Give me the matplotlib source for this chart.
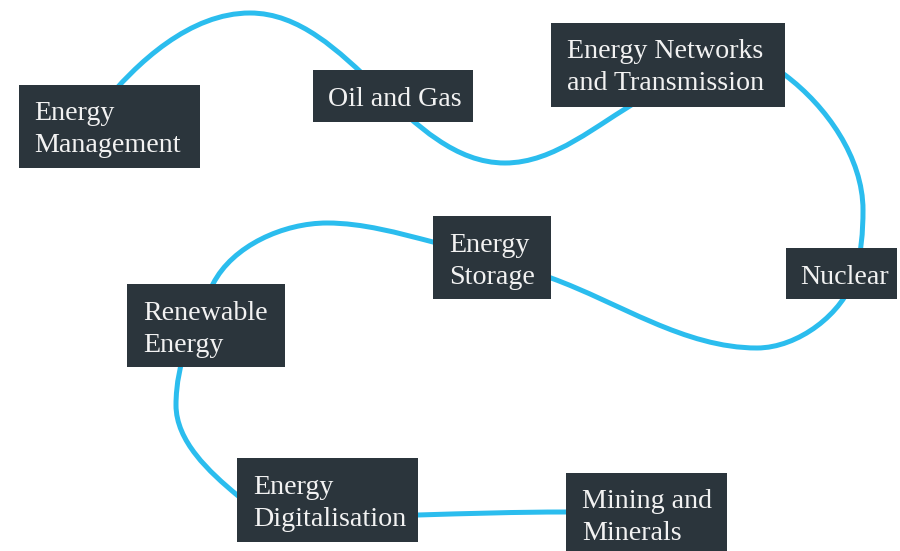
import matplotlib.pyplot as plt
from matplotlib.patches import Rectangle, PathPatch
from matplotlib.path import Path
import numpy as np

# sector boxes (pixel coords, y grows downward)
labels = [
    ["Energy", "Management"],
    ["Oil and Gas"],
    ["Energy Networks", "and Transmission"],
    ["Nuclear"],
    ["Energy", "Storage"],
    ["Renewable", "Energy"],
    ["Energy", "Digitalisation"],
    ["Mining and", "Minerals"],
]
box_left = [19, 313, 551, 786, 433, 127, 237, 566]
box_right = [200, 473, 785, 897, 551, 285, 418, 727]
box_top = [85, 70, 23, 248, 216, 284, 458, 473]
box_bottom = [168, 122, 107, 299, 299, 367, 542, 556]
text_left = [34, 328, 567, 800, 449, 143, 253, 582]

# anchors of the connecting route and the heading at each anchor
route_x = [100, 250, 505, 640, 785, 863, 855, 757, 551, 433, 327, 213, 176, 237, 418, 566, 600]
route_y = [108, 13, 163, 100, 75, 210, 275, 348, 278, 242, 223, 284, 405, 495, 515, 512, 512]
head_x = [0.62, 1, 1, 0.87, 0.8, 0, -0.3, -1, -0.94, -0.97, -1, -0.45, 0, 0.77, 1, 1, 1]
head_y = [-0.78, 0, 0, -0.49, 0.6, 1, 1, 0, -0.34, -0.25, 0, 0.89, 1, 0.64, -0.03, 0, 0]

BOX_COLOR = "#2b353c"
LINE_COLOR = "#2bbdee"


def route_path(xs, ys, hx, hy):
    pts = np.column_stack([xs, ys]).astype(float)
    tan = np.column_stack([hx, hy]).astype(float)
    tan /= np.linalg.norm(tan, axis=1)[:, None]
    verts = [pts[0]]
    codes = [Path.MOVETO]
    for i in range(len(pts) - 1):
        d = np.linalg.norm(pts[i + 1] - pts[i]) / 3.0
        verts += [pts[i] + tan[i] * d, pts[i + 1] - tan[i + 1] * d, pts[i + 1]]
        codes += [Path.CURVE4] * 3
    return Path(verts, codes)


fig = plt.figure(figsize=(9, 5.51), dpi=100)
ax = fig.add_axes([0, 0, 1, 1])
ax.set_xlim(0, 900)
ax.set_ylim(551, 0)
ax.axis("off")

route = PathPatch(route_path(route_x, route_y, head_x, head_y), facecolor="none",
                  edgecolor=LINE_COLOR, lw=3.6, capstyle="round", zorder=1)
ax.add_patch(route)

for lines, l, r, t, b, tx in zip(labels, box_left, box_right, box_top,
                                 box_bottom, text_left):
    ax.add_patch(Rectangle((l, t), r - l, b - t, facecolor=BOX_COLOR,
                           edgecolor="none", zorder=2))
    for k, line in enumerate(lines):
        ax.text(tx, t + 35.5 + 32 * k, line, ha="left", va="baseline",
                fontsize=20.2, family="Liberation Serif", color="#f2f2f2",
                zorder=3)

fig.savefig("out.png", dpi=100)
